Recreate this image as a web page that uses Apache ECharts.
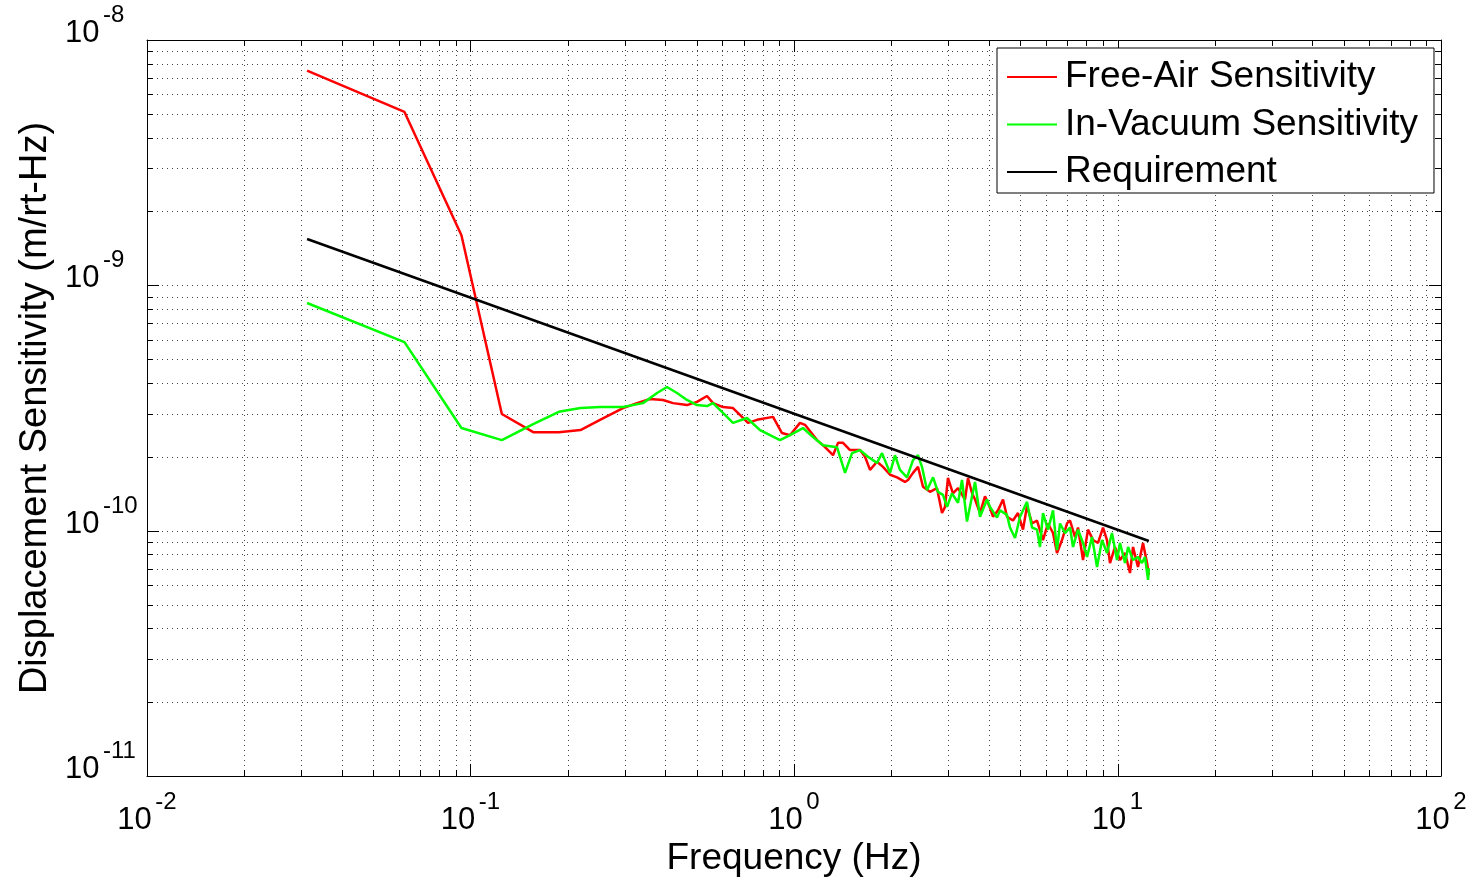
<!DOCTYPE html>
<html><head><meta charset="utf-8">
<script src="https://cdn.jsdelivr.net/npm/echarts@6/dist/echarts.min.js"></script>
<style>html,body{margin:0;padding:0;background:#fff}#c{width:1474px;height:878px}</style>
</head><body><div id="c"></div>
<script>
const seriesNames = ['Free-Air Sensitivity', 'In-Vacuum Sensitivity', 'Requirement'];
const freeAir = [
[0.03125,7.50e-9],[0.0625,5.09e-9],[0.09375,1.60e-9],[0.125,2.99e-10],[0.15625,2.52e-10],[0.1875,2.52e-10],[0.2188,2.57e-10],[0.2514,2.83e-10],[0.2961,3.16e-10],[0.3271,3.31e-10],[0.3588,3.44e-10],[0.3936,3.41e-10],[0.4227,3.31e-10],[0.4667,3.25e-10],[0.5013,3.35e-10],[0.5384,3.54e-10],[0.5620,3.31e-10],[0.6033,3.19e-10],[0.6477,3.16e-10],[0.6957,2.88e-10],[0.7208,2.75e-10],[0.7685,2.83e-10],[0.8612,2.91e-10],[0.9181,2.50e-10],[0.9719,2.45e-10],[1.0435,2.75e-10],[1.0814,2.70e-10],[1.178,2.34e-10],[1.229,2.23e-10],[1.320,2.03e-10],[1.368,2.28e-10],[1.418,2.28e-10],[1.490,2.13e-10],[1.600,2.13e-10],[1.658,2.00e-10],[1.718,1.77e-10],[1.806,1.91e-10],[1.884,1.82e-10],[1.981,1.69e-10],[2.082,1.65e-10],[2.203,1.58e-10],[2.251,1.61e-10],[2.333,1.72e-10],[2.417,1.82e-10],[2.505,1.51e-10],[2.633,1.44e-10],[2.767,1.49e-10],[2.868,1.18e-10],[2.930,1.25e-10],[2.992,1.64e-10],[3.100,1.42e-10],[3.214,1.49e-10],[3.378,1.34e-10],[3.451,1.64e-10],[3.551,1.42e-10],[3.628,1.34e-10],[3.758,1.18e-10],[3.894,1.38e-10],[4.035,1.24e-10],[4.122,1.14e-10],[4.272,1.21e-10],[4.427,1.34e-10],[4.554,1.14e-10],[4.753,1.10e-10],[4.925,1.18e-10],[5.104,1.01e-10],[5.251,1.26e-10],[5.442,1.07e-10],[5.638,1.10e-10],[5.884,9.16e-11],[6.098,1.07e-10],[6.319,9.78e-11],[6.502,8.11e-11],[6.737,9.16e-11],[6.982,1.07e-10],[7.133,1.10e-10],[7.391,9.42e-11],[7.550,1.03e-10],[7.824,7.59e-11],[8.107,1.01e-10],[8.402,9.16e-11],[8.706,8.91e-11],[9.021,1.03e-10],[9.280,9.16e-11],[9.480,7.38e-11],[9.823,8.58e-11],[10.18,7.59e-11],[10.55,8.11e-11],[10.93,6.72e-11],[11.17,8.58e-11],[11.57,7.11e-11],[11.99,8.91e-11],[12.34,7.38e-11],[12.5,6.60e-11]
];
const inVacuum = [
[0.03125,8.47e-10],[0.0625,5.87e-10],[0.09375,2.62e-10],[0.125,2.34e-10],[0.15625,2.72e-10],[0.1875,3.05e-10],[0.2188,3.16e-10],[0.2514,3.19e-10],[0.2961,3.19e-10],[0.3413,3.31e-10],[0.3772,3.64e-10],[0.4050,3.85e-10],[0.4349,3.64e-10],[0.4667,3.41e-10],[0.5013,3.25e-10],[0.5384,3.22e-10],[0.5620,3.31e-10],[0.6033,3.02e-10],[0.6477,2.75e-10],[0.7157,2.88e-10],[0.7851,2.57e-10],[0.8431,2.45e-10],[0.9051,2.34e-10],[0.9719,2.45e-10],[1.066,2.62e-10],[1.145,2.41e-10],[1.229,2.23e-10],[1.358,2.19e-10],[1.438,1.72e-10],[1.511,2.07e-10],[1.600,2.13e-10],[1.693,2.00e-10],[1.806,1.89e-10],[1.871,2.07e-10],[1.981,1.72e-10],[2.052,2.03e-10],[2.126,1.77e-10],[2.235,1.65e-10],[2.333,1.94e-10],[2.417,2.03e-10],[2.487,1.82e-10],[2.577,1.46e-10],[2.690,1.65e-10],[2.787,1.44e-10],[2.887,1.40e-10],[2.972,1.25e-10],[3.078,1.42e-10],[3.214,1.30e-10],[3.306,1.61e-10],[3.426,1.09e-10],[3.551,1.38e-10],[3.628,1.58e-10],[3.758,1.14e-10],[3.951,1.34e-10],[4.035,1.25e-10],[4.242,1.13e-10],[4.334,1.21e-10],[4.554,1.16e-10],[4.652,1.03e-10],[4.822,9.33e-11],[4.997,1.14e-10],[5.251,1.31e-10],[5.442,1.03e-10],[5.638,1.01e-10],[5.759,8.58e-11],[5.884,1.18e-10],[6.098,1.01e-10],[6.319,1.21e-10],[6.502,8.34e-11],[6.642,1.07e-10],[6.883,9.78e-11],[7.133,1.03e-10],[7.285,8.58e-11],[7.550,1.01e-10],[7.824,8.91e-11],[8.050,7.81e-11],[8.341,9.42e-11],[8.644,7.11e-11],[8.957,9.16e-11],[9.280,8.11e-11],[9.616,9.78e-11],[9.965,7.59e-11],[10.18,8.91e-11],[10.55,7.38e-11],[10.78,8.58e-11],[11.17,7.59e-11],[11.57,7.81e-11],[11.90,7.38e-11],[12.16,7.81e-11],[12.43,6.30e-11],[12.5,7.04e-11]
];
const requirement = [[0.03125,1.545e-9],[12.5,9.08e-11]];
const xTickValues = [0.01, 0.1, 1, 10, 100];
const yTickValues = [1e-11, 1e-10, 1e-9, 1e-8];
const minorMultipliers = [2, 3, 4, 5, 6, 7, 8, 9];
const xLabel = 'Frequency (Hz)';
const yLabel = 'Displacement Sensitivity (m/rt-Hz)';

const FONT = '"Liberation Sans", Arial, Helvetica, sans-serif';

function gridList(majors) {
  const out = [];
  majors.forEach((m, i) => {
    out.push([m, 1]);
    if (i < majors.length - 1) minorMultipliers.forEach(k => out.push([m * k, 0]));
  });
  return out;
}
const xGrid = gridList(xTickValues).map(d => [d[0], 1e-10, d[1]]);
const yGrid = gridList(yTickValues).map(d => [1, d[0], d[1]]);

const dotStyle = { stroke: '#444', lineWidth: 1, lineDash: [1, 4] };
const tickStyle = { stroke: '#000', lineWidth: 1 };

function renderX(params, api) {
  const cs = params.coordSys;
  const x = Math.round(api.coord([api.value(0), 1e-10])[0]) + 0.5;
  const len = api.value(2) === 1 ? 12 : 6;
  const top = cs.y, bot = cs.y + cs.height;
  const ch = [];
  if (x > cs.x + 2 && x < cs.x + cs.width - 2) {
    ch.push({ type: 'line', shape: { x1: x, y1: top, x2: x, y2: bot }, style: dotStyle });
  }
  ch.push({ type: 'line', shape: { x1: x, y1: bot, x2: x, y2: bot - len }, style: tickStyle });
  ch.push({ type: 'line', shape: { x1: x, y1: top, x2: x, y2: top + len }, style: tickStyle });
  return { type: 'group', children: ch };
}
function renderY(params, api) {
  const cs = params.coordSys;
  const y = Math.round(api.coord([1, api.value(1)])[1]) + 0.5;
  const len = api.value(2) === 1 ? 12 : 6;
  const l = cs.x, r = cs.x + cs.width;
  const ch = [];
  if (y > cs.y + 2 && y < cs.y + cs.height - 2) {
    ch.push({ type: 'line', shape: { x1: l, y1: y, x2: r, y2: y }, style: dotStyle });
  }
  ch.push({ type: 'line', shape: { x1: l, y1: y, x2: l + len, y2: y }, style: tickStyle });
  ch.push({ type: 'line', shape: { x1: r, y1: y, x2: r - len, y2: y }, style: tickStyle });
  return { type: 'group', children: ch };
}

const baseTok = { fontSize: 31, lineHeight: 24, width: 38, align: 'left', fontFamily: FONT, color: '#000' };
const expTok = { fontSize: 24, lineHeight: 12, align: 'left', fontFamily: FONT, color: '#000' };
const yRich = {
  s1: Object.assign({}, expTok, { width: 38 }),
  e: Object.assign({}, expTok, { width: 40 }),
  b: baseTok,
  s2: Object.assign({}, baseTok, { width: 40 })
};
const xRich = {
  s1: Object.assign({}, expTok, { width: 38 }),
  e: expTok,
  b: baseTok
};
const expOf = v => Math.round(Math.log10(v));
const yFmt = v => '{s1| }{e|' + expOf(v) + '}\n{b|10}{s2| }';
const xFmt = v => '{s1| }{e|' + expOf(v) + '}\n{b|10}';
const axisLineStyle = { show: true, lineStyle: { color: '#000', width: 1 } };
const legendIcon = 'path://M0,0 L50,0 L50,2 L0,2 Z';

const chart = echarts.init(document.getElementById('c'), null, { renderer: 'canvas' });
chart.setOption({
  animation: false,
  backgroundColor: '#fff',
  grid: { left: 147, right: 33, top: 40, bottom: 102, containLabel: false, outerBoundsMode: 'none' },
  legend: {
    data: seriesNames.map(n => ({ name: n, icon: legendIcon })),
    orient: 'vertical',
    left: 997, top: 48,
    itemWidth: 50, itemHeight: 2, itemGap: 7.5,
    padding: [9, 16, 1, 10],
    backgroundColor: '#fff', borderColor: '#000', borderWidth: 1,
    textStyle: { fontSize: 37, lineHeight: 40, fontFamily: FONT, color: '#000', padding: [0, 0, 0, 3] }
  },
  xAxis: [
    { type: 'log', logBase: 10, min: 0.01, max: 100, position: 'bottom',
      axisLine: axisLineStyle, axisTick: { show: false }, splitLine: { show: false }, minorTick: { show: false },
      axisLabel: { formatter: xFmt, rich: xRich, margin: 20 },
      name: xLabel, nameLocation: 'middle', nameGap: 62,
      nameTextStyle: { fontSize: 37, fontFamily: FONT, color: '#000' } },
    { type: 'log', logBase: 10, min: 0.01, max: 100, position: 'top',
      axisLine: axisLineStyle, axisTick: { show: false }, splitLine: { show: false }, axisLabel: { show: false } }
  ],
  yAxis: [
    { type: 'log', logBase: 10, min: 1e-11, max: 1e-8, position: 'left',
      axisLine: axisLineStyle, axisTick: { show: false }, splitLine: { show: false }, minorTick: { show: false },
      axisLabel: { formatter: yFmt, rich: yRich, margin: 4, padding: [0, 0, 25, 0] },
      name: yLabel, nameLocation: 'middle', nameGap: 88, nameRotate: 90,
      nameTextStyle: { fontSize: 38, fontFamily: FONT, color: '#000' } },
    { type: 'log', logBase: 10, min: 1e-11, max: 1e-8, position: 'right',
      axisLine: axisLineStyle, axisTick: { show: false }, splitLine: { show: false }, axisLabel: { show: false } }
  ],
  series: [
    { type: 'custom', name: 'xgrid', data: xGrid, renderItem: renderX, silent: true, z: 1,
      encode: { x: 0, y: 1 }, xAxisIndex: 0, yAxisIndex: 0, clip: false },
    { type: 'custom', name: 'ygrid', data: yGrid, renderItem: renderY, silent: true, z: 1,
      encode: { x: 0, y: 1 }, xAxisIndex: 0, yAxisIndex: 0, clip: false },
    { type: 'line', name: seriesNames[0], data: freeAir, symbol: 'none', z: 3,
      lineStyle: { color: '#ff0000', width: 2.5 }, itemStyle: { color: '#ff0000' } },
    { type: 'line', name: seriesNames[1], data: inVacuum, symbol: 'none', z: 4,
      lineStyle: { color: '#00ff00', width: 2.5 }, itemStyle: { color: '#00ff00' } },
    { type: 'line', name: seriesNames[2], data: requirement, symbol: 'none', z: 5,
      lineStyle: { color: '#000000', width: 2.5 }, itemStyle: { color: '#000000' } }
  ]
});
</script></body></html>
